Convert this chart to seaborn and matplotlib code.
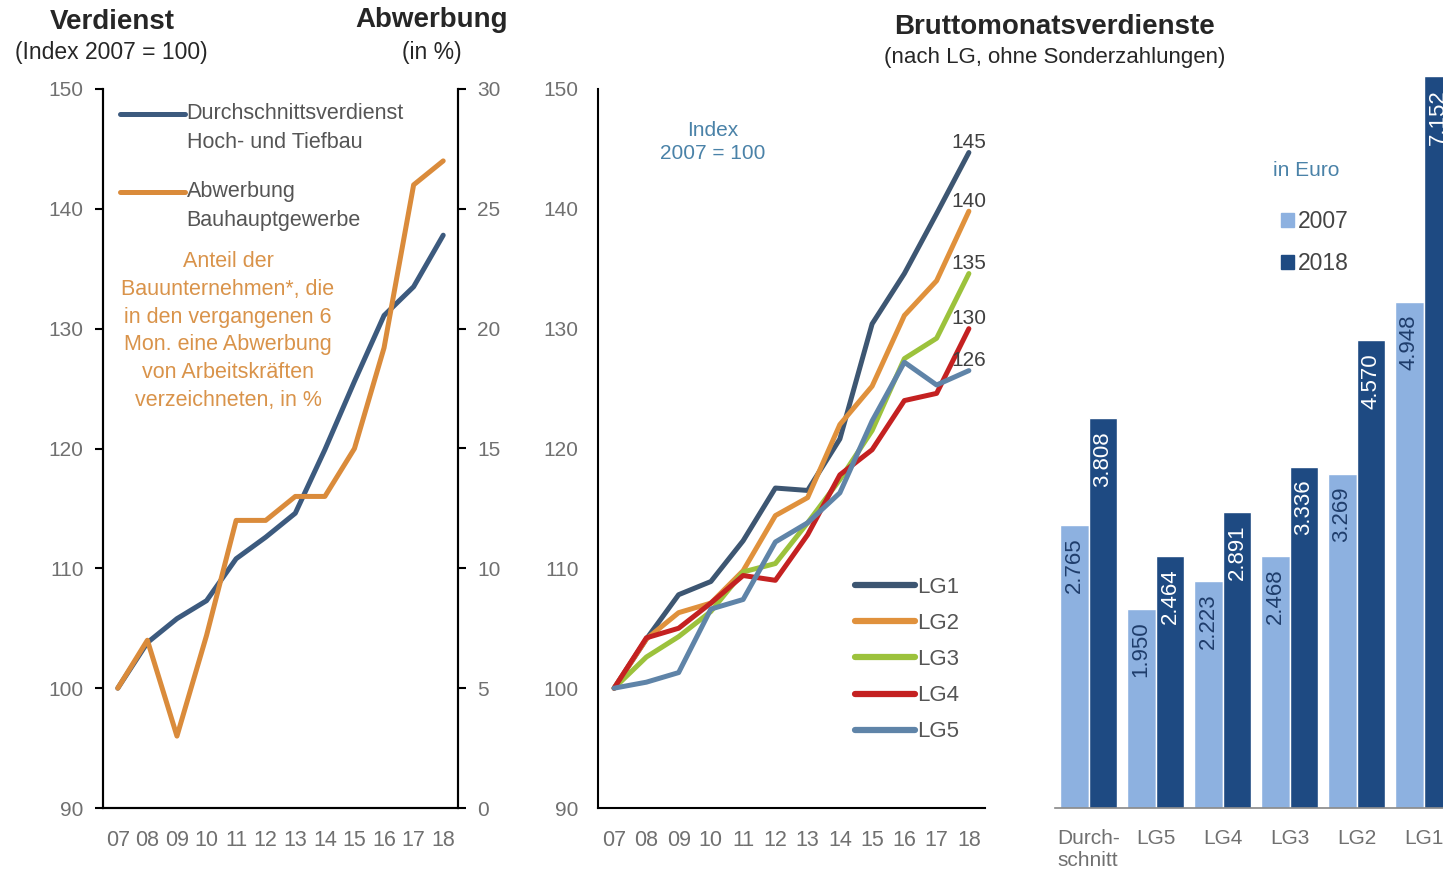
import numpy as np
import pandas as pd
import matplotlib.pyplot as plt
import seaborn as sns
from matplotlib.patches import Patch
from matplotlib.legend_handler import HandlerLine2D

# --- Daten ---
years = ["07", "08", "09", "10", "11", "12", "13", "14", "15", "16", "17", "18"]
verdienst = [100, 103.8, 105.8, 107.3, 110.8, 112.6, 114.6, 119.9, 125.6, 131.1, 133.5, 137.8]
abwerbung = [5, 7, 3, 7.2, 12, 12, 13, 13, 15, 19.2, 26, 27]

lg1 = [100, 104.1, 107.8, 108.9, 112.3, 116.7, 116.5, 120.8, 130.4, 134.6, 139.6, 144.7]
lg2 = [100, 104.1, 106.3, 107.1, 109.8, 114.4, 115.9, 122.0, 125.2, 131.1, 134.0, 139.8]
lg3 = [100, 102.6, 104.3, 106.4, 109.7, 110.4, 113.8, 117.4, 121.5, 127.5, 129.2, 134.6]
lg4 = [100, 104.2, 105.0, 107.1, 109.4, 109.0, 112.8, 117.8, 119.9, 124.0, 124.6, 130.0]
lg5 = [100, 100.5, 101.3, 106.6, 107.4, 112.2, 113.8, 116.3, 122.3, 127.2, 125.3, 126.5]
lg_names = ["LG1", "LG2", "LG3", "LG4", "LG5"]
end_labels = ["145", "140", "135", "130", "126"]

gruppen = ["Durch-\nschnitt", "LG5", "LG4", "LG3", "LG2", "LG1"]
brutto_2007 = [2765, 1950, 2223, 2468, 3269, 4948]
brutto_2018 = [3808, 2464, 2891, 3336, 4570, 7152]

# --- Stil ---
sns.set_style("white")
plt.rcParams['font.family'] = ['Liberation Sans', 'DejaVu Sans']
tick_grey = "#707070"
text_grey = "#555555"

W, H = 1443, 875
fig = plt.figure(figsize=(W / 100, H / 100), dpi=100)


def box(x0, y0, x1, y1):
    return [x0 / W, 1 - y1 / H, (x1 - x0) / W, (y1 - y0) / H]


def year_axis(ax):
    ax.set_xlim(-0.5, len(years) - 0.5)
    ax.set_xticks(np.arange(-0.5, len(years), 1))
    ax.set_xticklabels([])
    ax.set_xticks(np.arange(len(years)), minor=True)
    ax.set_xticklabels(years, minor=True)
    ax.tick_params(axis="x", which="major", length=6, width=1.5, color="black")
    ax.tick_params(axis="x", which="minor", length=0, pad=16, labelsize=15.5, labelcolor=tick_grey)
    ax.set_xlabel("")


# Legendenlinie auf Hoehe der ersten Textzeile
class FirstLineHandler(HandlerLine2D):
    def create_artists(self, legend, orig_handle, xdescent, ydescent, width, height, fontsize, trans):
        arts = super().create_artists(legend, orig_handle, xdescent, ydescent, width, height, fontsize, trans)
        for a in arts:
            a.set_ydata(np.asarray(a.get_ydata()) + 0.68 * fontsize)
        return arts


# ===== 1. Verdienst / Abwerbung =====
ax1 = fig.add_axes(box(103, 89, 458, 808))
ax2 = ax1.twinx()
df1 = pd.DataFrame({"x": np.arange(len(years)), "verdienst": verdienst, "abwerbung": abwerbung})
sns.lineplot(data=df1, x="x", y="verdienst", ax=ax1, color="#3c5a7e", linewidth=3.6,
             label="Durchschnittsverdienst\nHoch- und Tiefbau", legend=False)
sns.lineplot(data=df1, x="x", y="abwerbung", ax=ax2, color="#da8b3b", linewidth=3.6,
             label="Abwerbung\nBauhauptgewerbe", legend=False)
ax1.set_ylim(90, 150)
ax2.set_ylim(0, 30)
ax1.set_yticks(range(90, 151, 10))
ax2.set_yticks(range(0, 31, 5))
year_axis(ax1)
ax1.set_ylabel("")
ax2.set_ylabel("")
for a in (ax1, ax2):
    a.tick_params(axis="y", length=6, width=1.5, color="black", labelsize=15, labelcolor=tick_grey, pad=8)
    for s in a.spines.values():
        s.set_linewidth(1.5)
        s.set_color("black")
    a.spines["top"].set_visible(False)

h1, l1 = ax1.get_legend_handles_labels()
h2, l2 = ax2.get_legend_handles_labels()
leg1 = ax2.legend(h1 + h2, l1 + l2, loc="upper left", bbox_to_anchor=(120 / W, 1 - 103 / H),
                  bbox_transform=fig.transFigure, frameon=False, fontsize=15.5,
                  handlelength=3.0, handletextpad=0.1, labelspacing=1.3,
                  borderpad=0, borderaxespad=0,
                  handler_map={h: FirstLineHandler() for h in h1 + h2})
for t in leg1.get_texts():
    t.set_color(text_grey)
    t.set_linespacing(1.5)

fig.text(228 / W, 1 - 331 / H, "Anteil der\nBauunternehmen*, die\nin den vergangenen 6\nMon. eine Abwerbung\n"
         "von Arbeitskräften\nverzeichneten, in %", ha="center", va="center",
         fontsize=15.5, color="#d9934a", linespacing=1.43)

fig.text(112 / W, 1 - 22 / H, "Verdienst", ha="center", va="center", fontsize=20, fontweight="bold")
fig.text(111 / W, 1 - 53 / H, "(Index 2007 = 100)", ha="center", va="center", fontsize=16.5)
fig.text(432 / W, 1 - 20 / H, "Abwerbung", ha="center", va="center", fontsize=20, fontweight="bold")
fig.text(432 / W, 1 - 52 / H, "(in %)", ha="center", va="center", fontsize=16.5)

# ===== 2. Index nach LG =====
ax3 = fig.add_axes(box(598, 89, 985, 808))
df2 = pd.DataFrame({"x": np.tile(np.arange(len(years)), 5),
                    "wert": lg1 + lg2 + lg3 + lg4 + lg5,
                    "LG": np.repeat(lg_names, len(years))})
lg_colors = ["#3d5672", "#e0913c", "#9cc23c", "#c42121", "#5f84a8"]
sns.lineplot(data=df2, x="x", y="wert", hue="LG", palette=lg_colors, linewidth=3.6, ax=ax3)
ax3.set_ylim(90, 150)
ax3.set_yticks(range(90, 151, 10))
year_axis(ax3)
ax3.set_ylabel("")
ax3.tick_params(axis="y", length=6, width=1.5, color="black", labelsize=15, labelcolor=tick_grey, pad=8)
for s in ["top", "right"]:
    ax3.spines[s].set_visible(False)
for s in ["left", "bottom"]:
    ax3.spines[s].set_linewidth(1.5)
    ax3.spines[s].set_color("black")

leg2 = ax3.legend(loc="upper left", bbox_to_anchor=(855 / W, 1 - 577 / H), bbox_transform=fig.transFigure,
                  frameon=False, fontsize=16, handlelength=2.7, handletextpad=0.1, labelspacing=0.68,
                  borderpad=0, borderaxespad=0)
for t in leg2.get_texts():
    t.set_color(text_grey)
for ln in leg2.get_lines():
    ln.set_linewidth(4.5)

last_vals = [lg1[-1], lg2[-1], lg3[-1], lg4[-1], lg5[-1]]
for lab, v in zip(end_labels, last_vals):
    ax3.annotate(lab, (len(years) - 1, v), xytext=(0, 7), textcoords="offset points",
                 ha="center", va="center", fontsize=15, color="#404040")

fig.text(713 / W, 1 - 142 / H, "Index\n2007 = 100", ha="center", va="center", fontsize=15,
         color="#4a82a8", linespacing=1.25)

# ===== 3. Bruttomonatsverdienste =====
ax4 = fig.add_axes(box(1055, 60, 1457, 808))
df3 = pd.DataFrame({"Gruppe": gruppen * 2,
                    "Wert": brutto_2007 + brutto_2018,
                    "Jahr": ["2007"] * len(gruppen) + ["2018"] * len(gruppen)})
bar_colors = ["#8db1e0", "#1e4a82"]
sns.barplot(data=df3, x="Gruppe", y="Wert", hue="Jahr", palette=bar_colors, saturation=1,
            width=0.86, gap=0, ax=ax4)
ax4.set_ylim(0, 7312)
ax4.set_ylabel("")
ax4.set_xlabel("")
ax4.set_yticks([])
for s in ["top", "right", "left"]:
    ax4.spines[s].set_visible(False)
ax4.spines["bottom"].set_color("#888888")
ax4.spines["bottom"].set_linewidth(1.2)
ax4.set_xlim(-0.5, len(gruppen) - 0.5)
ax4.set_xticks(np.arange(-0.5, len(gruppen), 1))
ax4.set_xticklabels([])
ax4.set_xticks(np.arange(len(gruppen)), minor=True)
ax4.set_xticklabels(gruppen, minor=True)
ax4.tick_params(axis="x", which="major", length=4, width=1.2, color="#888888")
ax4.tick_params(axis="x", which="minor", length=0, pad=15, labelsize=15, labelcolor=tick_grey)
for t in ax4.get_xticklabels(minor=True):
    t.set_multialignment("left")

label_colors = ["#1f3d6b", "white"]
for cont, col in zip(ax4.containers, label_colors):
    for p in cont:
        v = p.get_height()
        ax4.annotate(f"{int(round(v)):,}".replace(",", "."), (p.get_x() + p.get_width() / 2, v),
                     xytext=(0, -9), textcoords="offset points", rotation=90,
                     ha="center", va="top", fontsize=16, color=col)

h4, l4 = ax4.get_legend_handles_labels()
h4 = [Patch(color=c) for c in bar_colors]
leg3 = ax4.legend(h4, l4, loc="upper left", bbox_to_anchor=(1281 / W, 1 - 210 / H),
                  bbox_transform=fig.transFigure, frameon=False, fontsize=16.5,
                  handlelength=0.55, handleheight=0.55, handletextpad=0.2, labelspacing=0.85,
                  borderpad=0, borderaxespad=0)
for t in leg3.get_texts():
    t.set_color("#444444")
fig.text(1306 / W, 1 - 170 / H, "in Euro", ha="center", va="center", fontsize=15, color="#4a82a8")

fig.text(1055 / W, 1 - 27 / H, "Bruttomonatsverdienste", ha="center", va="center",
         fontsize=20, fontweight="bold")
fig.text(1055 / W, 1 - 58 / H, "(nach LG, ohne Sonderzahlungen)", ha="center", va="center", fontsize=16)

fig.savefig("out.png", dpi=100)
